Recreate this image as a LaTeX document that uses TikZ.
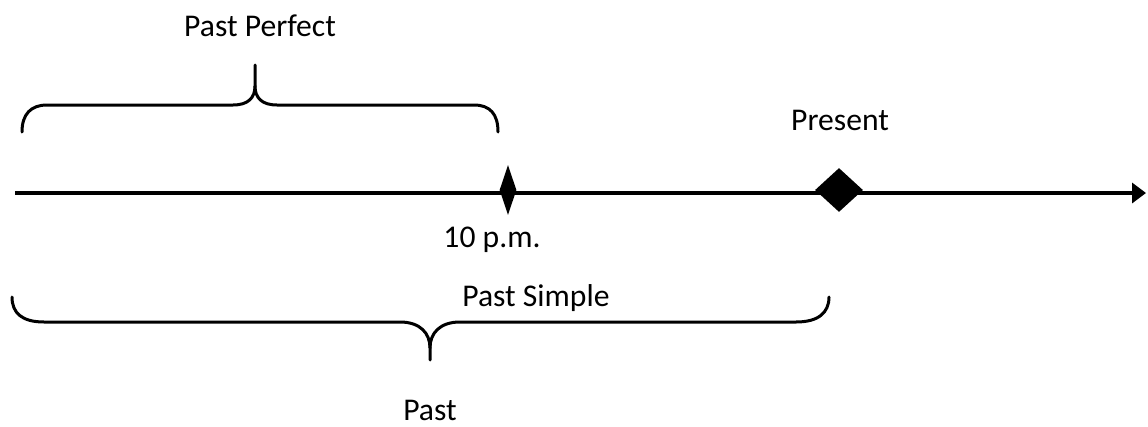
\documentclass[tikz,border=0pt]{standalone}
\usepackage{fontspec}
\setmainfont{Carlito}
\usetikzlibrary{arrows.meta,shapes.geometric}

\tikzset{
  timeline/.style={line width=0.08cm,-{Triangle[length=0.28cm,width=0.4cm]}},
  brace/.style={line width=0.06cm,line cap=round},
  marker/.style={diamond,fill=black,inner sep=0pt},
  label/.style={font=\fontsize{18}{21}\selectfont,inner sep=0pt}
}

\begin{document}
\begin{tikzpicture}[x=0.02cm,y=-0.02cm]
    \useasboundingbox (0,0) rectangle (1148,426);
    % time line
    \coordinate (start) at (15,193);
    \coordinate (stop) at (1146,193);
    \draw[timeline] (start) -- (stop);
    \node[marker,minimum width=0.34cm,minimum height=1cm] (ten) at (508,190) {};
    \node[marker,minimum width=0.96cm,minimum height=0.88cm] (now) at (839,190) {};
    \node[label] (tenlabel) at (492,240) {10 p.m.};
    \node[label] (present) at (840,120) {Present};
    % past perfect brace
    \draw[brace] (22,132) .. controls (22,114) and (31,105) .. (47,105) -- (233,105)
        .. controls (248,105) and (255,98) .. (255,86) -- (255,65);
    \draw[brace] (255,86) .. controls (255,98) and (262,105) .. (277,105) -- (474,105)
        .. controls (490,105) and (498,114) .. (498,132);
    \node[label] (perfect) at (260,26) {Past Perfect};
    % past simple brace
    \draw[brace] (12,297) .. controls (12,313) and (22,322) .. (44,322) -- (400,322)
        .. controls (420,322) and (430,333) .. (430,348) -- (430,360);
    \draw[brace] (430,348) .. controls (430,333) and (440,322) .. (460,322) -- (796,322)
        .. controls (818,322) and (829,313) .. (829,297);
    \node[label] (simple) at (536,298) {Past Simple};
    \node[label] (past) at (430,410) {Past};
\end{tikzpicture}
\end{document}
